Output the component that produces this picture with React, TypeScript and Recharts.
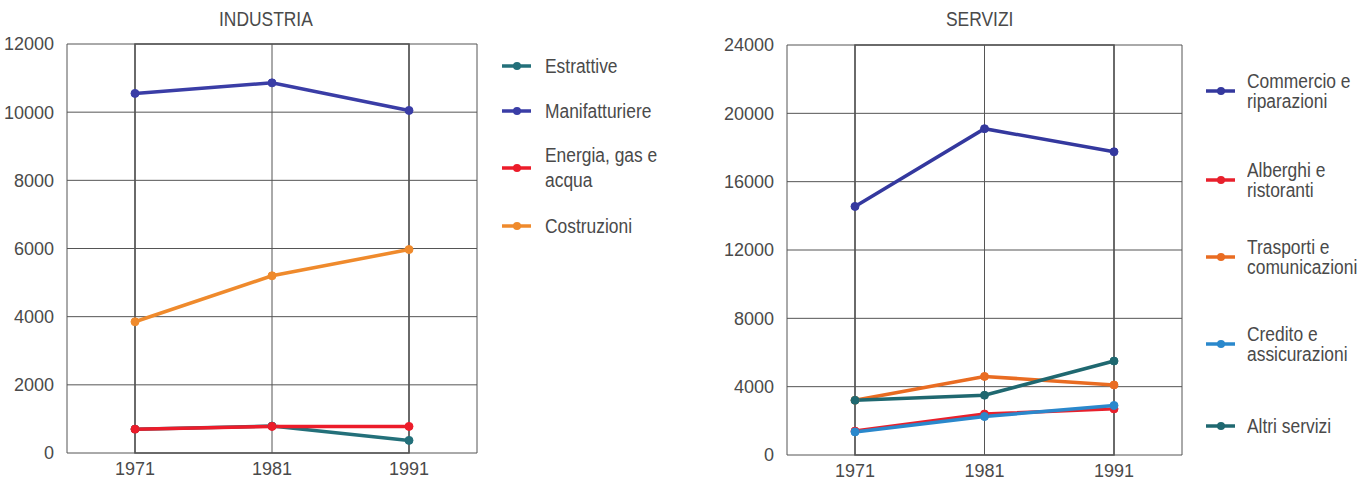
import React from "react";
import { LineChart, Line, XAxis, YAxis, CartesianGrid, ReferenceArea } from "recharts";

const FONT = '"Liberation Sans", Arial, sans-serif';
const TEXT = "#4a4a4a";

const years = ["1971", "1981", "1991"];

// Industria
const estrattive = [700, 790, 370];
const manifatturiere = [10550, 10860, 10050];
const energia = [700, 780, 780];
const costruzioni = [3850, 5200, 5970];
const industriaTicks = [0, 2000, 4000, 6000, 8000, 10000, 12000];

// Servizi
const commercio = [14550, 19100, 17750];
const alberghi = [1400, 2400, 2700];
const trasporti = [3200, 4600, 4100];
const credito = [1350, 2250, 2900];
const altri = [3200, 3500, 5500];
const serviziTicks = [0, 4000, 8000, 12000, 16000, 20000, 24000];

const industriaSeries = [
  { key: "estrattive", label: ["Estrattive"], color: "#23707a", values: estrattive, legendY: 66 },
  { key: "manifatturiere", label: ["Manifatturiere"], color: "#3a3da6", values: manifatturiere, legendY: 111 },
  { key: "costruzioni", label: ["Costruzioni"], color: "#ef8a2c", values: costruzioni, legendY: 226 },
  { key: "energia", label: ["Energia, gas e", "acqua"], color: "#ec1c2a", values: energia, legendY: 168 },
];

const serviziSeries = [
  { key: "commercio", label: ["Commercio e", "riparazioni"], color: "#34389e", values: commercio, legendY: 91 },
  { key: "alberghi", label: ["Alberghi e", "ristoranti"], color: "#e8202c", values: alberghi, legendY: 180 },
  { key: "trasporti", label: ["Trasporti e", "comunicazioni"], color: "#e96c22", values: trasporti, legendY: 257 },
  { key: "credito", label: ["Credito e", "assicurazioni"], color: "#2a88cc", values: credito, legendY: 344 },
  { key: "altri", label: ["Altri servizi"], color: "#1f6870", values: altri, legendY: 426 },
];

type Series = (typeof industriaSeries)[number];

function buildData(series: Series[]) {
  return years.map((year, i) => {
    const row: Record<string, string | number> = { year };
    series.forEach((s) => (row[s.key] = s.values[i]));
    return row;
  });
}

const tickStyle = { fill: TEXT, fontSize: 18, fontFamily: FONT };

function Panel({
  series, ticks, width, yWidth, xHeight, top, right,
}: {
  series: Series[]; ticks: number[]; width: number; yWidth: number; xHeight: number; top: number; right: number;
}) {
  const max = ticks[ticks.length - 1];
  return (
    <LineChart width={width} height={493} data={buildData(series)} margin={{ top, right, bottom: 0, left: 0 }}>
      <CartesianGrid stroke="#555" strokeWidth={1} />
      <ReferenceArea y1={0} y2={max} fill="none" fillOpacity={0} stroke="#555" strokeWidth={1.5} />
      <XAxis
        dataKey="year"
        height={xHeight}
        padding={{ left: 68, right: 68 }}
        axisLine={false}
        tickLine={false}
        tickSize={0}
        tickMargin={9}
        tick={tickStyle}
      />
      <YAxis
        width={yWidth}
        domain={[0, max]}
        ticks={ticks}
        axisLine={false}
        tickLine={false}
        tickSize={0}
        tickMargin={13}
        tick={tickStyle}
      />
      {series.map((s) => (
        <Line
          key={s.key}
          type="linear"
          dataKey={s.key}
          stroke={s.color}
          strokeWidth={3.5}
          dot={{ r: 4, fill: s.color, stroke: s.color, strokeWidth: 1 }}
          activeDot={false}
          isAnimationActive={false}
        />
      ))}
    </LineChart>
  );
}

const squeeze: React.CSSProperties = {
  fontSize: 20,
  color: TEXT,
  whiteSpace: "nowrap",
  transform: "scaleX(0.87)",
  transformOrigin: "left center",
};

function Legend({ series, iconX, textX, lineHeight }: { series: Series[]; iconX: number; textX: number; lineHeight: number }) {
  return (
    <>
      {series.map((s) => {
        const h = s.label.length * lineHeight;
        return (
          <div key={s.key}>
            <svg
              width={30}
              height={10}
              style={{ position: "absolute", left: iconX, top: s.legendY - 5 }}
            >
              <line x1={0} y1={5} x2={29} y2={5} stroke={s.color} strokeWidth={3.5} />
              <circle cx={15} cy={5} r={4} fill={s.color} />
            </svg>
            <div
              style={{
                ...squeeze,
                position: "absolute",
                left: textX,
                top: s.legendY - h / 2,
                lineHeight: `${lineHeight}px`,
              }}
            >
              {s.label.map((l) => (
                <div key={l}>{l}</div>
              ))}
            </div>
          </div>
        );
      })}
    </>
  );
}

export default function App() {
  return (
    <div
      style={{
        position: "absolute",
        left: 0,
        top: 0,
        width: 1361,
        height: 493,
        background: "#fff",
        fontFamily: FONT,
        overflow: "hidden",
      }}
    >
      <div style={{ position: "absolute", left: 0, top: 0 }}>
        <Panel series={industriaSeries} ticks={industriaTicks} width={480} yWidth={67} xHeight={40} top={44} right={3} />
      </div>
      <div style={{ position: "absolute", left: 700, top: 0 }}>
        <Panel series={serviziSeries} ticks={serviziTicks} width={490} yWidth={87} xHeight={38} top={45} right={8} />
      </div>
      <div style={{ ...squeeze, position: "absolute", left: 219, top: 7, lineHeight: "24px" }}>INDUSTRIA</div>
      <div style={{ ...squeeze, position: "absolute", left: 946, top: 7, lineHeight: "24px" }}>SERVIZI</div>
      <Legend series={industriaSeries} iconX={502} textX={545} lineHeight={25} />
      <Legend series={serviziSeries} iconX={1206} textX={1247} lineHeight={20} />
    </div>
  );
}
